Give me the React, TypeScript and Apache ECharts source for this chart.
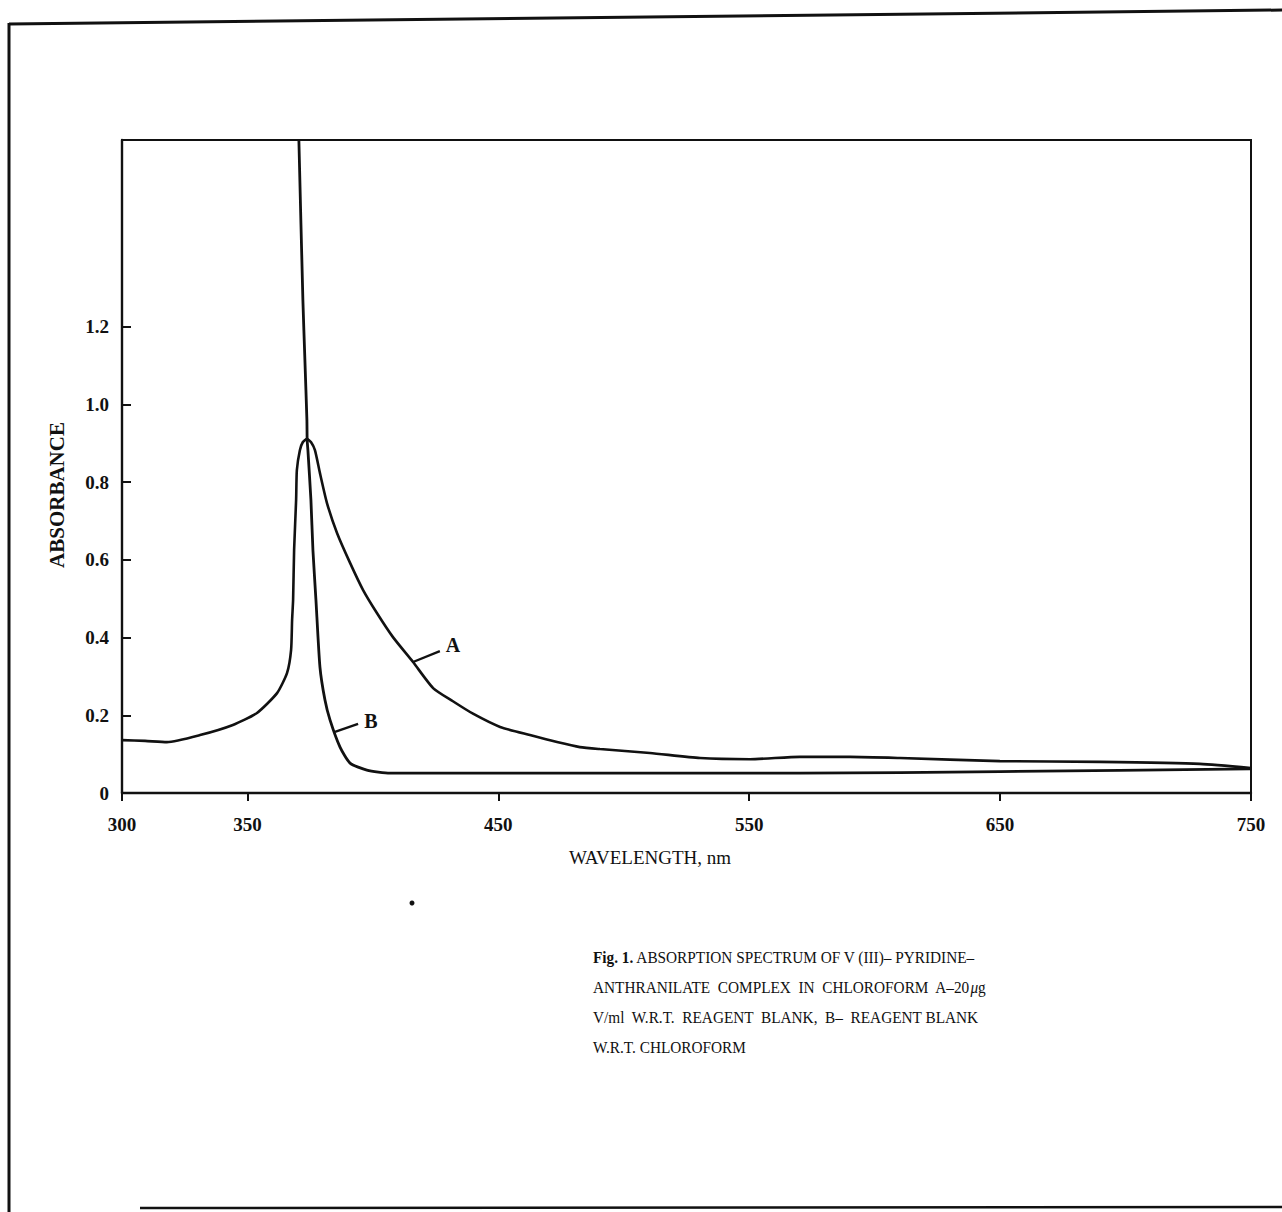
import React, { useEffect, useRef } from 'react';
import * as echarts from 'echarts';

// Curve A: complex vs reagent blank (wavelength nm, absorbance)
const wavelengthA = [300.0, 309.2, 317.9, 331.1, 344.2, 353.8, 361.8, 365.8, 367.4, 367.8, 368.2, 368.6, 369.4, 369.7, 370.9, 372.1, 373.7, 375.3, 376.9, 378.9, 381.7, 385.7, 390.9, 396.1, 401.6, 408.0, 416.0, 424.0, 431.9, 439.9, 450.7, 462.6, 473.4, 482.5, 490.5, 510.4, 530.4, 550.3, 570.2, 590.2, 610.1, 649.9, 689.8, 729.6, 750.0];
const absorbanceA = [0.136, 0.134, 0.131, 0.149, 0.175, 0.206, 0.257, 0.309, 0.368, 0.445, 0.497, 0.625, 0.754, 0.831, 0.882, 0.903, 0.911, 0.903, 0.882, 0.823, 0.746, 0.669, 0.592, 0.522, 0.463, 0.401, 0.337, 0.270, 0.236, 0.204, 0.170, 0.149, 0.131, 0.118, 0.113, 0.103, 0.090, 0.087, 0.093, 0.093, 0.090, 0.082, 0.080, 0.075, 0.064];

// Curve B: reagent blank vs chloroform
const wavelengthB = [370.5, 372.1, 372.9, 373.7, 373.8, 374.1, 375.3, 376.1, 377.3, 378.9, 380.9, 382.9, 386.9, 390.9, 397.6, 406.8, 450.7, 570.2, 649.9, 749.6];
const absorbanceB = [1.68, 1.268, 1.114, 0.960, 0.908, 0.882, 0.754, 0.625, 0.497, 0.324, 0.239, 0.188, 0.118, 0.077, 0.059, 0.051, 0.051, 0.051, 0.055, 0.062];

const xTickValues = [300, 350, 450, 550, 650, 750];
const yTickValues = [0, 0.2, 0.4, 0.6, 0.8, 1.0, 1.2];

// curve labels (data coordinates) and their leader lines
const curveLabels = ['A', 'B'];
const labelAnchors = [[431.9, 0.381], [399.2, 0.185]];
const leaderLines = [
  [[416.0, 0.337], [426.7, 0.365]],
  [[384.9, 0.157], [394.1, 0.178]],
];

const captionLines = [
  '{b|Fig. 1.} ABSORPTION SPECTRUM OF V (III)– PYRIDINE–',
  'ANTHRANILATE  COMPLEX  IN  CHLOROFORM  A–20{i|μ}g',
  'V/ml  W.R.T.  REAGENT  BLANK,  B–  REAGENT BLANK',
  'W.R.T. CHLOROFORM',
];

const SERIF = '"Liberation Serif", "DejaVu Serif", serif';
const INK = '#111';

export default function App() {
  const ref = useRef<HTMLDivElement>(null);

  useEffect(() => {
    if (!ref.current) return;
    const chart = echarts.init(ref.current, undefined, { renderer: 'svg' });

    const pairs = (xs: number[], ys: number[]) => xs.map((x, i) => [x, ys[i]]);

    const series: any[] = [
      {
        name: 'A',
        type: 'line',
        data: pairs(wavelengthA, absorbanceA),
        showSymbol: false,
        smooth: 0.2,
        lineStyle: { color: INK, width: 2.6 },
        z: 3,
      },
      {
        name: 'B',
        type: 'line',
        data: pairs(wavelengthB, absorbanceB),
        showSymbol: false,
        smooth: 0.2,
        lineStyle: { color: INK, width: 2.8 },
        z: 3,
      },
    ];
    leaderLines.forEach((seg, i) => {
      series.push({
        name: 'leader' + curveLabels[i],
        type: 'line',
        data: seg,
        showSymbol: false,
        lineStyle: { color: INK, width: 2.4 },
        z: 3,
      });
    });
    series.push({
      name: 'labels',
      type: 'scatter',
      symbolSize: 1,
      itemStyle: { color: 'transparent', opacity: 1 },
      data: labelAnchors.map((p, i) => ({ value: p, name: curveLabels[i] })),
      label: {
        show: true,
        position: 'inside',
        formatter: (p: any) => p.name,
        color: INK,
        opacity: 1,
        textBorderWidth: 0,
        fontFamily: SERIF,
        fontWeight: 'bold',
        fontSize: 20,
      },
      z: 4,
    });

    const captionGraphics = captionLines.map((t, i) => ({
      type: 'text',
      x: 593,
      y: 957 + i * 30,
      scaleX: 0.9,
      style: {
        text: t,
        x: 0,
        y: 0,
        fill: INK,
        font: `17px ${SERIF}`,
        align: 'left',
        verticalAlign: 'middle',
        rich: {
          b: { fontFamily: SERIF, fontWeight: 'bold', fontSize: 17, fill: INK },
          i: { fontFamily: SERIF, fontStyle: 'italic', fontSize: 17, fill: INK },
        },
      },
    }));

    chart.setOption({
      animation: false,
      backgroundColor: '#fff',
      grid: {
        left: 122,
        right: 31,
        top: 140,
        bottom: 419,
        show: true,
        borderColor: INK,
        borderWidth: 2,
        backgroundColor: 'transparent',
      },
      xAxis: {
        type: 'value',
        min: 300,
        max: 750,
        interval: 50,
        axisLine: { show: true, lineStyle: { color: INK, width: 2.4 } },
        axisTick: {
          show: true,
          inside: false,
          length: 8,
          customValues: xTickValues,
          lineStyle: { color: INK, width: 2 },
        },
        axisLabel: {
          customValues: xTickValues,
          formatter: (v: number) => (xTickValues.indexOf(v) >= 0 ? String(v) : ''),
          margin: 22,
          color: INK,
          fontFamily: SERIF,
          fontWeight: 'bold',
          fontSize: 19,
        },
        splitLine: { show: false },
      },
      yAxis: {
        type: 'value',
        min: 0,
        max: 1.68,
        interval: 0.2,
        axisLine: { show: true, lineStyle: { color: INK, width: 2.4 } },
        axisTick: {
          show: true,
          inside: true,
          length: 9,
          customValues: yTickValues,
          lineStyle: { color: INK, width: 2 },
        },
        axisLabel: {
          customValues: yTickValues,
          formatter: (v: number) => {
            if (v > 1.21) return '';
            return v === 0 ? '0' : v.toFixed(1);
          },
          margin: 13,
          color: INK,
          fontFamily: SERIF,
          fontWeight: 'bold',
          fontSize: 19,
        },
        splitLine: { show: false },
      },
      series,
      graphic: [
        // scanned page border
        { type: 'line', shape: { x1: 9, y1: 24, x2: 1282, y2: 10 }, style: { stroke: INK, lineWidth: 3 } },
        { type: 'line', shape: { x1: 9, y1: 23, x2: 9, y2: 1212 }, style: { stroke: INK, lineWidth: 3 } },
        { type: 'line', shape: { x1: 140, y1: 1208, x2: 1282, y2: 1207 }, style: { stroke: INK, lineWidth: 2.5 } },
        // speck
        { type: 'circle', shape: { cx: 412, cy: 903, r: 2.5 }, style: { fill: INK } },
        {
          type: 'text',
          x: 57,
          y: 495,
          rotation: Math.PI / 2,
          style: {
            text: 'ABSORBANCE',
            fill: INK,
            font: `bold 21px ${SERIF}`,
            align: 'center',
            verticalAlign: 'middle',
          },
        },
        {
          type: 'text',
          x: 650,
          y: 857,
          style: {
            text: 'WAVELENGTH, nm',
            fill: INK,
            font: `19px ${SERIF}`,
            align: 'center',
            verticalAlign: 'middle',
          },
        },
        ...captionGraphics,
      ],
    });

    return () => chart.dispose();
  }, []);

  return (
    <div
      ref={ref}
      style={{ position: 'absolute', left: 0, top: 0, width: 1282, height: 1212 }}
    />
  );
}
